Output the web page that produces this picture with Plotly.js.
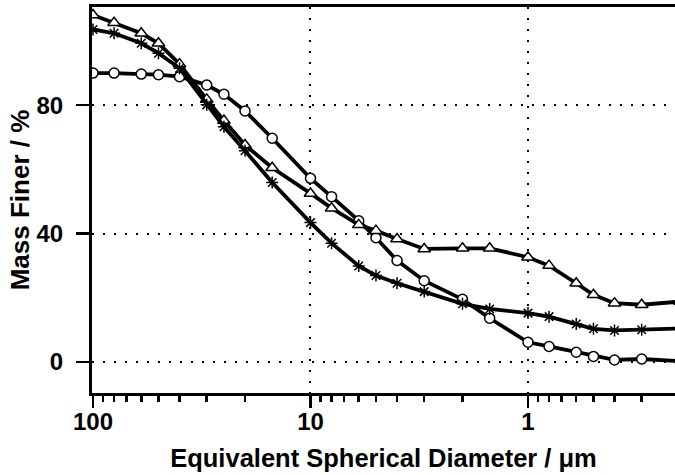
<!DOCTYPE html>
<html>
<head>
<meta charset="utf-8">
<script src="https://cdn.plot.ly/plotly-3.0.1.min.js"></script>
<style>html,body{margin:0;padding:0;background:#fff;}#chart{width:675px;height:475px;}</style>
</head>
<body>
<div id="chart"></div>
<script>
// Equivalent spherical diameter (µm)
var diameters = [100, 80, 60, 50, 40, 30, 25, 20, 15, 10, 8, 6, 5, 4, 3, 2, 1.5, 1, 0.8, 0.6, 0.5, 0.4, 0.3, 0.2];
// Mass finer (%) for each sample
var seriesCircle   = [90.0, 90.0, 89.7, 89.5, 88.9, 86.3, 83.4, 78.2, 69.7, 57.2, 51.5, 44.0, 38.7, 31.6, 25.3, 19.5, 13.6, 6.1, 4.8, 3.0, 1.7, 0.6, 0.9, 0.2];
var seriesTriangle = [108.1, 105.7, 102.4, 99.3, 92.8, 81.8, 75.2, 67.6, 60.5, 52.5, 47.9, 42.7, 40.9, 38.3, 35.2, 35.4, 35.4, 32.6, 30.0, 24.5, 20.9, 18.3, 17.8, 18.8];
var seriesStar     = [103.6, 102.4, 99.3, 96.2, 91.5, 80.1, 73.3, 65.8, 55.9, 43.4, 37.0, 29.9, 26.9, 24.5, 21.9, 18.1, 16.5, 15.2, 14.1, 11.8, 10.3, 9.8, 10.0, 10.4];
// Axis ticks
var xMajorTicks = [100, 10, 1];
var xMajorLabels = ['100', '10', '1'];
var yTicks = [0, 40, 80];
var yLabels = ['0', '40', '80'];

var xMinorTicks = [];
[10, 1, 0.1].forEach(function (dec) {
  for (var k = 2; k <= 9; k++) xMinorTicks.push(+(dec * k).toPrecision(3));
});

var lineStyle = {color: '#000', width: 3.8};
function trace(y, symbol, size, name) {
  return {
    x: diameters, y: y, name: name, type: 'scatter', mode: 'lines+markers',
    line: lineStyle,
    marker: {symbol: symbol, size: size, color: '#fff', line: {color: '#000', width: 1.5}},
    cliponaxis: true
  };
}
var tStar = trace(seriesStar, 'asterisk-open', 10, 'star');
tStar.marker.color = '#000';
var data = [
  trace(seriesCircle, 'circle', 10, 'circle'),
  trace(seriesTriangle, 'triangle-up', 11, 'triangle'),
  tStar
];

var font = 'Liberation Sans, Arial, sans-serif';
var layout = {
  width: 675, height: 475,
  margin: {l: 92, r: 0, t: 7, b: 82, pad: 0},
  paper_bgcolor: '#fff', plot_bgcolor: '#fff',
  showlegend: false,
  xaxis: {
    type: 'log',
    range: [2.0046, -0.676],
    tickmode: 'array', tickvals: xMajorTicks, ticktext: xMajorLabels,
    ticks: 'outside', ticklen: 12, tickwidth: 2.5, tickcolor: '#000',
    showline: true, linecolor: '#000', linewidth: 3, mirror: true,
    showgrid: true, gridcolor: '#000', gridwidth: 2, griddash: '2px,9px',
    zeroline: false,
    tickfont: {family: font, size: 24, color: '#000', weight: 'bold'},
    ticklabelstandoff: -7,
    minor: {tickmode: 'array', tickvals: xMinorTicks, ticks: 'outside', ticklen: 6, tickwidth: 2.5, tickcolor: '#000', showgrid: false},
    title: {text: 'Equivalent Spherical Diameter / μm', font: {family: font, size: 25.5, color: '#000', weight: 'bold'}, standoff: 16},
    automargin: false
  },
  yaxis: {
    range: [-9.7, 110.6],
    tickmode: 'array', tickvals: yTicks, ticktext: yLabels,
    ticks: 'outside', ticklen: 13, tickwidth: 2.5, tickcolor: '#000',
    showline: true, linecolor: '#000', linewidth: 3,
    showgrid: true, gridcolor: '#000', gridwidth: 2, griddash: '2px,9px',
    zeroline: false,
    tickfont: {family: font, size: 24, color: '#000', weight: 'bold'},
    ticklabelstandoff: 8,
    title: {text: 'Mass Finer / %', font: {family: font, size: 26, color: '#000', weight: 'bold'}, standoff: 0},
    automargin: false
  }
};

Plotly.newPlot('chart', data, layout, {staticPlot: true, displayModeBar: false});
</script>
</body>
</html>
